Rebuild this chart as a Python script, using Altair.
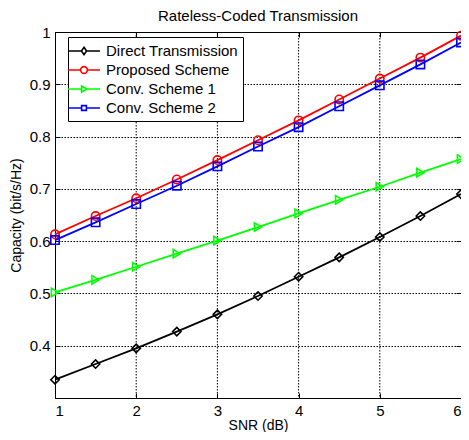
import altair as alt
import pandas as pd

snr = [1, 1.5, 2, 2.5, 3, 3.5, 4, 4.5, 5, 5.5, 6]
direct = [0.335, 0.365, 0.395, 0.427, 0.460, 0.495, 0.532, 0.569, 0.608, 0.648, 0.690]
proposed = [0.613, 0.648, 0.682, 0.718, 0.755, 0.793, 0.831, 0.871, 0.911, 0.951, 0.993]
conv1 = [0.502, 0.526, 0.551, 0.576, 0.601, 0.627, 0.653, 0.679, 0.704, 0.731, 0.757]
conv2 = [0.602, 0.636, 0.671, 0.706, 0.743, 0.781, 0.818, 0.858, 0.898, 0.938, 0.980]

series_names = ["Direct Transmission", "Proposed Scheme", "Conv. Scheme 1", "Conv. Scheme 2"]
series_values = [direct, proposed, conv1, conv2]
colors = ["#000000", "#ff0000", "#00ff00", "#0000ff"]
shapes = ["diamond", "circle", "triangle-right", "square"]

x_ticks = [1, 2, 3, 4, 5, 6]
y_ticks = [0.4, 0.5, 0.6, 0.7, 0.8, 0.9, 1.0]
x_grid = [2, 3, 4, 5]

# legend glyphs: a line with the marker in the middle
legend_paths = [
    "M-2,0H-0.32M0.32,0H2M0,-0.46L0.32,0L0,0.46L-0.32,0Z",
    "M-2,0H-0.42M0.42,0H2M0.42,0A0.42,0.42 0 1,1 -0.42,0A0.42,0.42 0 1,1 0.42,0",
    "M-2,0H-0.3M0.38,0H2M-0.3,-0.38L0.38,0L-0.3,0.38Z",
    "M-2,0H-0.3M0.3,0H2M-0.3,-0.3H0.3V0.3H-0.3Z",
]

rows = []
for name, vals in zip(series_names, series_values):
    for x, y in zip(snr, vals):
        rows.append({"snr": x, "cap": y, "series": name})
df = pd.DataFrame(rows)
gx = pd.DataFrame({"snr": x_grid})

font = "Liberation Sans"
xs = alt.Scale(domain=[1, 6], nice=False, zero=False)
ys = alt.Scale(domain=[0.3, 1.0], nice=False, zero=False)


def tick_axis(orient, values):
    return alt.Axis(orient=orient, values=values, offset=-5, tickSize=5, tickColor="#000",
                    tickWidth=1, ticks=True, labels=False, domain=False, grid=False, title=None)


color_nolegend = alt.Color("series:N", scale=alt.Scale(domain=series_names, range=colors), legend=None)

grid_v = alt.Chart(gx).mark_rule(color="#000", strokeWidth=1, strokeDash=[1.5, 1.5]).encode(
    x=alt.X("snr:Q", scale=xs, axis=None)
)
lines = alt.Chart(df).mark_line(strokeWidth=1.8).encode(
    x=alt.X("snr:Q", title="SNR (dB)", scale=xs,
            axis=alt.Axis(orient="bottom", values=x_ticks, format="d", ticks=False, grid=False)),
    y=alt.Y("cap:Q", title="Capacity (bit/s/Hz)", scale=ys,
            axis=alt.Axis(orient="left", values=y_ticks, format="~g", ticks=False, grid=True,
                          gridColor="#000", gridDash=[1.5, 1.5], gridWidth=1, gridOpacity=1)),
    color=color_nolegend,
)
points = alt.Chart(df).mark_point(filled=False, size=70, strokeWidth=1.6, opacity=1).encode(
    x=alt.X("snr:Q", scale=xs, axis=tick_axis("bottom", x_ticks)),
    y=alt.Y("cap:Q", scale=ys, axis=tick_axis("left", y_ticks)),
    color=color_nolegend,
    shape=alt.Shape("series:N", scale=alt.Scale(domain=series_names, range=shapes), legend=None),
)
legend_layer = alt.Chart(df).mark_point(filled=False, strokeWidth=1.6, opacity=1).encode(
    x=alt.X("snr:Q", scale=xs, axis=tick_axis("top", x_ticks)),
    y=alt.Y("cap:Q", scale=ys, axis=tick_axis("right", y_ticks)),
    color=alt.Color("series:N", scale=alt.Scale(domain=series_names, range=colors),
                    legend=alt.Legend(title=None)),
    shape=alt.Shape("series:N", scale=alt.Scale(domain=series_names, range=legend_paths),
                    legend=alt.Legend(title=None, labelExpr="datum.label + '\u00a0\u00a0\u00a0\u00a0'")),
).transform_filter("datum.cap > 100")

chart = alt.layer(grid_v, lines, points, legend_layer).resolve_scale(
    color="independent", shape="independent", x="independent", y="independent"
).resolve_axis(x="independent", y="independent").properties(
    width=406, height=366,
    autosize=alt.AutoSizeParams(type="none"),
    padding={"left": 47, "top": 24, "right": 0, "bottom": 34},
    title=alt.Title("Rateless-Coded Transmission", font=font, fontSize=15,
                    fontWeight="normal", color="#000", offset=1),
).configure_view(
    stroke="#000", strokeWidth=1
).configure_axis(
    labelFont=font, labelFontSize=15, labelColor="#000",
    titleFont=font, titleFontSize=14, titleFontWeight="normal", titleColor="#000",
    domainColor="#000", domainWidth=1, labelPadding=5,
).configure_axisX(titlePadding=0).configure_axisY(titlePadding=6).configure_legend(
    orient="none", legendX=13, legendY=5,
    fillColor="#ffffff", strokeColor="#000000", padding=5,
    labelFont=font, labelFontSize=15, labelColor="#000", labelOffset=13,
    symbolSize=256, symbolOffset=2, symbolStrokeWidth=1.6, rowPadding=2,
)

chart.save("out.html", embed_options={"renderer": "svg", "actions": False})
